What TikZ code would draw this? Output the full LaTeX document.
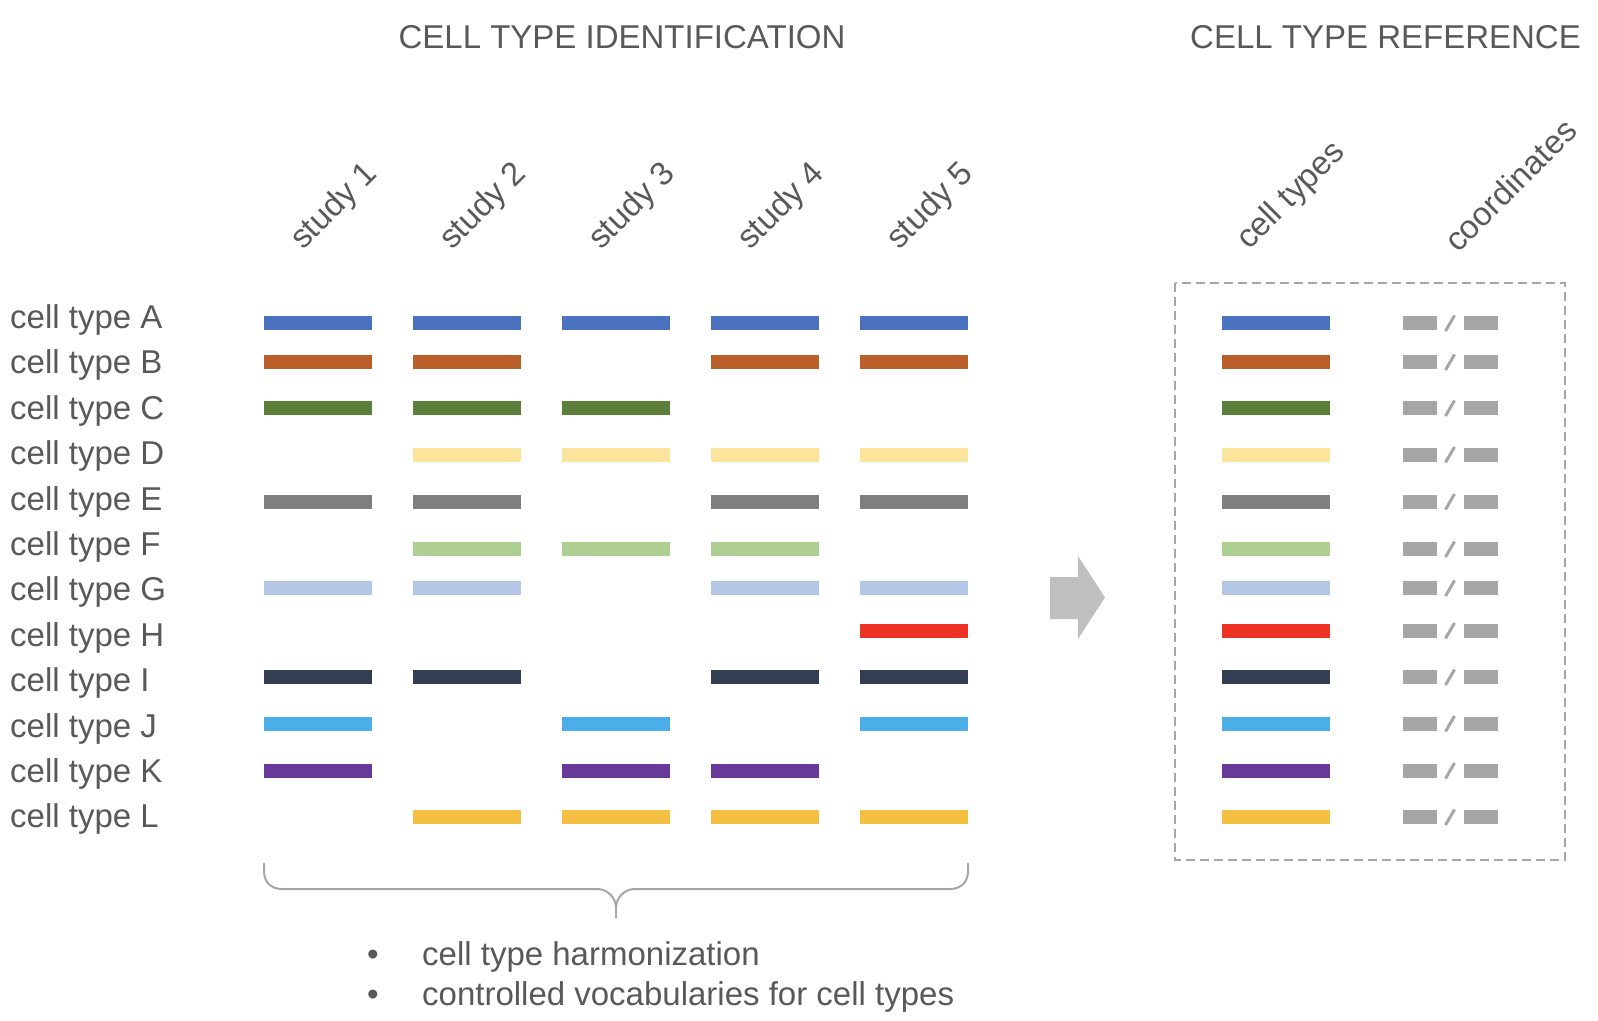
\documentclass[tikz,border=0pt]{standalone}
\usepackage{fontspec}
\setmainfont{Liberation Sans}
\begin{document}
\begin{tikzpicture}[x=1pt,y=-1pt,
  lbl/.style={text=txt, inner sep=0pt, font=\fontsize{33}{40}\selectfont},
  bar/.style={minimum width=108pt, minimum height=14pt, inner sep=0pt, outer sep=0pt, draw=none},
  cbox/.style={minimum width=34pt, minimum height=14pt, inner sep=0pt, outer sep=0pt, draw=none, fill=cgrey},
  refbox/.style={draw=boxgrey, line width=1.5pt, dash pattern=on 9pt off 5pt},
  bracestyle/.style={draw=boxgrey, line width=2pt}]
\definecolor{txt}{HTML}{595959}
\definecolor{boxgrey}{HTML}{A6A6A6}
\definecolor{cgrey}{HTML}{A6A6A6}
\definecolor{arrowgrey}{HTML}{BFBFBF}
\definecolor{cA}{HTML}{4A72BE}
\definecolor{cB}{HTML}{BA5F29}
\definecolor{cC}{HTML}{5B7F3A}
\definecolor{cD}{HTML}{FBE59D}
\definecolor{cE}{HTML}{7F7F7F}
\definecolor{cF}{HTML}{AECF92}
\definecolor{cG}{HTML}{B5C7E6}
\definecolor{cH}{HTML}{EC3325}
\definecolor{cI}{HTML}{333F50}
\definecolor{cJ}{HTML}{4BAEE8}
\definecolor{cK}{HTML}{683999}
\definecolor{cL}{HTML}{F5BF41}
\useasboundingbox (0,0) rectangle (1598,1020);

% titles
\node[lbl] (t1) at (622,37) {CELL TYPE IDENTIFICATION};
\node[lbl] (t2) at (1385.5,37) {CELL TYPE REFERENCE};

% study headers
\foreach \i in {1,...,5}{
  \pgfmathsetmacro{\sx}{303+149*(\i-1)}
  \node[lbl, rotate=45, anchor=base west] (s\i) at (\sx,251) {study \i};
}
\node[lbl, rotate=45, anchor=base west] (hct) at (1249,251) {cell types};
\node[lbl, rotate=45, anchor=base west] (hco) at (1458,254) {coordinates};

% row labels
\foreach \r [count=\k from 0] in {A,B,C,D,E,F,G,H,I,J,K,L}{
  \pgfmathsetmacro{\ly}{328.5+45.4*\k}
  \node[lbl, anchor=base west] (l\r) at (10,\ly) {cell type \r};
}

% study bars
\foreach \r/\y/\cols in {A/323/{1,2,3,4,5}, B/362/{1,2,4,5}, C/408/{1,2,3}, D/454.5/{2,3,4,5},
  E/501.5/{1,2,4,5}, F/549/{2,3,4}, G/588/{1,2,4,5}, H/630.5/{5}, I/677/{1,2,4,5},
  J/723.5/{1,3,5}, K/770.5/{1,3,4}, L/817/{2,3,4,5}}{
  \foreach \c in \cols{
    \pgfmathsetmacro{\bx}{318+149*(\c-1)}
    \node[bar, fill=c\r] (b\r\c) at (\bx,\y) {};
  }
  % reference bars
  \node[bar, fill=c\r] (ref\r) at (1276,\y) {};
  \node[cbox] (ca\r) at (1420,\y) {};
  \node[cbox] (cb\r) at (1480.5,\y) {};
  \draw[cgrey, line width=3pt] (1445.5,\y+8) -- (1454.5,\y-7.5);
}

% dashed reference box
\draw[refbox] (1175,283) rectangle (1565,860);

% big arrow
\fill[arrowgrey] (1050,577) -- (1078,577) -- (1078,556) -- (1105,597.5) -- (1078,639) -- (1078,619) -- (1050,619) -- cycle;

% brace
\coordinate (brL) at (264,863);
\coordinate (brR) at (968,863);
\coordinate (brT) at (616,918);
\draw[bracestyle] (brL) -- (264,871) .. controls (264,882) and (271,889) .. (282,889) -- (597,889)
  .. controls (608,889) and (616,898) .. (616,908) -- (brT);
\draw[bracestyle] (brR) -- (968,871) .. controls (968,882) and (961,889) .. (950,889) -- (635,889)
  .. controls (624,889) and (616,898) .. (616,908);

% bullets
\node[lbl, anchor=base west] (bu1) at (367,965) {•};
\node[lbl, anchor=base west] (bt1) at (422,965) {cell type harmonization};
\node[lbl, anchor=base west] (bu2) at (367,1005) {•};
\node[lbl, anchor=base west] (bt2) at (422,1005) {controlled vocabularies for cell types};
\end{tikzpicture}
\end{document}
